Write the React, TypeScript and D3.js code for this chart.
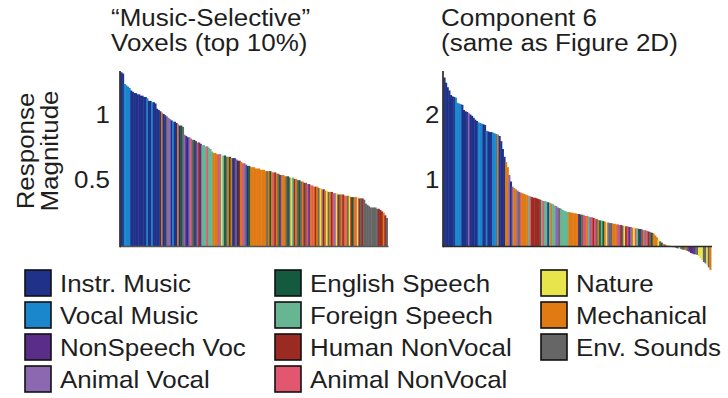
import React from 'react';
import * as d3 from 'd3';

// Sound categories (shared by both panels and the legend)
const CATEGORY_KEYS = ['I', 'V', 'N', 'A', 'E', 'F', 'H', 'P', 'T', 'M', 'S'];
const CATEGORY_NAMES = [
  'Instr. Music', 'Vocal Music', 'NonSpeech Voc', 'Animal Vocal',
  'English Speech', 'Foreign Speech', 'Human NonVocal', 'Animal NonVocal',
  'Nature', 'Mechanical', 'Env. Sounds',
];
const CATEGORY_COLORS = [
  '#1f3189', '#1a86cc', '#5a2d88', '#8b68b0',
  '#135a3e', '#67b592', '#9b2b22', '#e2566f',
  '#e8e44c', '#e07a12', '#666666',
];

// Left panel: mean response of the top 10% music-selective voxels, sorted
const voxelValues = [
  1.34, 1.33, 1.25, 1.24, 1.23, 1.22, 1.20, 1.19, 1.18, 1.18,
  1.17, 1.17, 1.16, 1.16, 1.15, 1.15, 1.14, 1.12, 1.12, 1.11,
  1.11, 1.10, 1.06, 1.05, 1.04, 1.03, 1.02, 1.01, 1.00, 0.99,
  0.98, 0.97, 0.96, 0.96, 0.95, 0.94, 0.93, 0.93, 0.92, 0.86,
  0.85, 0.84, 0.84, 0.83, 0.82, 0.82, 0.81, 0.80, 0.80, 0.79,
  0.78, 0.78, 0.77, 0.77, 0.76, 0.75, 0.73, 0.72, 0.72, 0.71,
  0.71, 0.71, 0.70, 0.70, 0.70, 0.69, 0.69, 0.69, 0.68, 0.68,
  0.68, 0.67, 0.66, 0.66, 0.65, 0.64, 0.64, 0.63, 0.62, 0.62,
  0.61, 0.61, 0.61, 0.60, 0.60, 0.60, 0.59, 0.59, 0.59, 0.58,
  0.58, 0.58, 0.58, 0.57, 0.57, 0.57, 0.56, 0.56, 0.55, 0.55,
  0.55, 0.54, 0.54, 0.54, 0.53, 0.53, 0.53, 0.52, 0.52, 0.51,
  0.51, 0.50, 0.50, 0.49, 0.49, 0.48, 0.48, 0.47, 0.47, 0.46,
  0.46, 0.46, 0.45, 0.45, 0.44, 0.44, 0.43, 0.43, 0.42, 0.42,
  0.42, 0.41, 0.41, 0.41, 0.40, 0.40, 0.40, 0.40, 0.39, 0.39,
  0.39, 0.39, 0.38, 0.38, 0.38, 0.38, 0.38, 0.37, 0.37, 0.37,
  0.36, 0.33, 0.32, 0.31, 0.30, 0.30, 0.30, 0.30, 0.29, 0.29,
  0.28, 0.27, 0.26, 0.24, 0.22,
];
const voxelCategories = [
  'IIVVVVIIII', 'IIIIIIVIIV', 'IIIIIMIISA', 'AIVIIMIESA',
  'NIAPSENAHN', 'FFFPFFFMMM', 'PATFESMEMI', 'NSIHMPASIE',
  'MMMMMMMMMM', 'SMEMPHMSEP', 'MMSESTFHMS', 'ESMHSPNMPM',
  'HMSTMNMTSM', 'HPATHSMHPM', 'STHEMPTHSH', 'SSSSSSSSSH',
  'HHMHS',
].join('');

// Right panel: component 6 response profile, sorted
const componentValues = [
  2.60, 2.52, 2.45, 2.40, 2.33, 2.31, 2.30, 2.29, 2.21, 2.20,
  2.19, 2.18, 2.10, 2.08, 2.07, 2.05, 2.03, 2.01, 1.98, 1.95,
  1.93, 1.91, 1.90, 1.89, 1.88, 1.87, 1.78, 1.77, 1.76, 1.76,
  1.75, 1.74, 1.73, 1.72, 1.70, 1.62, 1.50, 1.38, 1.30, 1.22,
  1.10, 1.00, 0.92, 0.90, 0.88, 0.86, 0.84, 0.83, 0.82, 0.81,
  0.80, 0.79, 0.78, 0.77, 0.76, 0.75, 0.75, 0.74, 0.73, 0.72,
  0.71, 0.70, 0.70, 0.69, 0.68, 0.67, 0.66, 0.65, 0.63, 0.62,
  0.60, 0.59, 0.58, 0.56, 0.55, 0.54, 0.53, 0.53, 0.52, 0.52,
  0.51, 0.51, 0.50, 0.50, 0.49, 0.49, 0.48, 0.47, 0.47, 0.46,
  0.45, 0.45, 0.44, 0.43, 0.42, 0.41, 0.40, 0.40, 0.39, 0.38,
  0.37, 0.37, 0.36, 0.36, 0.35, 0.35, 0.34, 0.34, 0.33, 0.33,
  0.32, 0.32, 0.31, 0.31, 0.30, 0.30, 0.29, 0.29, 0.28, 0.28,
  0.27, 0.27, 0.26, 0.25, 0.25, 0.24, 0.23, 0.22, 0.21, 0.20,
  0.17, 0.14, 0.11, 0.08, 0.06, 0.04, 0.03, 0.02, 0.01, 0.01,
  0.00, -0.01, -0.01, -0.02, -0.03, -0.03, -0.04, -0.05, -0.05, -0.06,
  -0.07, -0.08, -0.10, -0.11, -0.12, -0.12, -0.13, -0.15, -0.18, -0.21,
  -0.24, -0.26, -0.28, -0.32, -0.36,
];
const componentCategories = [
  'IIIIIIIVVV', 'VIIIIAIIII', 'IVVVIIVIII', 'VVVMIIIIMM',
  'AIAMMASPMM', 'MMFPHHHHHH', 'FPFFIFMFFA', 'ASFFFFFMMM',
  'MMMNESPPMF', 'APHPSMEFEM', 'TASSMMMPAH', 'STHPNAMTPF',
  'ENSMAPHSEM', 'MMTSEMSMSE', 'TSMESTSSSM', 'SNNNNSSTTT',
  'SSTSM',
].join('');

const voxelTicks = [0.5, 1];
const voxelTickLabels = ['0.5', '1'];
const componentTicks = [1, 2];
const componentTickLabels = ['1', '2'];

const voxelTitle = ['\u201CMusic-Selective\u201D', 'Voxels (top 10%)'];
const componentTitle = ['Component 6', '(same as Figure 2D)'];
const yLabel = ['Response', 'Magnitude'];

const FONT = "'Liberation Sans', Arial, Helvetica, sans-serif";
const INK = '#1e1e1e';

const colorOf = (key: string) => CATEGORY_COLORS[CATEGORY_KEYS.indexOf(key)];

type LabelProps = {
  x: number;
  y: number;
  anchor?: 'start' | 'middle' | 'end';
  rotate?: boolean;
  baseline?: string;
  lines: string[];
  lineGap?: number;
  size?: number;
  stretch?: number;
};

// Text block (one or more lines) in a slightly wide sans face
const Label = ({
  x, y, anchor = 'start', rotate = false, baseline, lines, lineGap = 24, size = 24, stretch = 1.08,
}: LabelProps) => (
  <text
    transform={`translate(${x},${y})${rotate ? ' rotate(-90)' : ''} scale(${stretch},1)`}
    textAnchor={anchor}
    dominantBaseline={baseline}
    fontFamily={FONT}
    fontSize={size}
    fill={INK}
  >
    {lines.map((line, i) => (
      <tspan key={i} x={0} dy={i === 0 ? 0 : lineGap}>
        {line}
      </tspan>
    ))}
  </text>
);

type PanelProps = {
  values: number[];
  categories: string;
  xRange: [number, number];
  yMax: number;
  ticks: number[];
  tickLabels: string[];
  tickX: number;
  title: string[];
  titleX: number;
  baselineColor: string;
};

const TOP = 71;
const ZERO = 246.5;

const Panel = ({
  values, categories, xRange, yMax, ticks, tickLabels, tickX, title, titleX, baselineColor,
}: PanelProps) => {
  const x = d3.scaleBand<number>().domain(d3.range(values.length)).range(xRange).padding(0);
  const y = d3.scaleLinear().domain([0, yMax]).range([ZERO, TOP]);
  const bw = x.bandwidth();
  return (
    <g>
      {values.map((v, i) => {
        const y0 = y(Math.max(0, v));
        const y1 = y(Math.min(0, v));
        return (
          <rect
            key={i}
            x={x(i)!}
            y={y0}
            width={bw + 0.45}
            height={Math.max(0, y1 - y0)}
            fill={colorOf(categories[i])}
          />
        );
      })}
      <line x1={xRange[0] - 0.5} x2={xRange[1] + 1} y1={y(0)} y2={y(0)} stroke={baselineColor} strokeWidth={1.6} />
      <line x1={xRange[0] - 0.5} x2={xRange[0] - 0.5} y1={TOP} y2={y(0) + 0.8} stroke={INK} strokeWidth={1.6} />
      {ticks.map((t, i) => (
        <Label key={t} x={tickX} y={y(t) - 2.5} anchor="end" baseline="central" lines={[tickLabels[i]]} />
      ))}
      <Label x={titleX} y={25.5} lines={title} lineGap={26} size={23} stretch={1.13} />
    </g>
  );
};

const LEGEND_COLS = [25, 275, 541];
const LEGEND_TOP = 270;
const LEGEND_STEP = 32;
const SWATCH = 26;

const Legend = () => (
  <g>
    {CATEGORY_NAMES.map((name, i) => {
      const col = Math.floor(i / 4);
      const row = i % 4;
      const sx = LEGEND_COLS[col];
      const sy = LEGEND_TOP + row * LEGEND_STEP;
      return (
        <g key={name}>
          <rect
            x={sx}
            y={sy}
            width={SWATCH}
            height={SWATCH}
            fill={CATEGORY_COLORS[i]}
            stroke="#111"
            strokeWidth={1.6}
          />
          <Label x={sx + SWATCH + 9} y={sy + 21.5} lines={[name]} />
        </g>
      );
    })}
  </g>
);

export default function App() {
  return (
    <svg
      width={728}
      height={398}
      viewBox="0 0 728 398"
      style={{ position: 'absolute', left: 0, top: 0, background: '#fff' }}
    >
      <rect width={728} height={398} fill="#fff" />
      <Label x={33.5} y={151} anchor="middle" rotate lines={yLabel} lineGap={25} />
      <Panel
        values={voxelValues}
        categories={voxelCategories}
        xRange={[120.5, 387.5]}
        yMax={(ZERO - TOP) / 130}
        ticks={voxelTicks}
        tickLabels={voxelTickLabels}
        tickX={110}
        title={voxelTitle}
        titleX={111}
        baselineColor="#555"
      />
      <Panel
        values={componentValues}
        categories={componentCategories}
        xRange={[443.5, 711]}
        yMax={(ZERO - TOP) / 65}
        ticks={componentTicks}
        tickLabels={componentTickLabels}
        tickX={439.5}
        title={componentTitle}
        titleX={441}
        baselineColor="#2a2a2a"
      />
      <Legend />
    </svg>
  );
}
